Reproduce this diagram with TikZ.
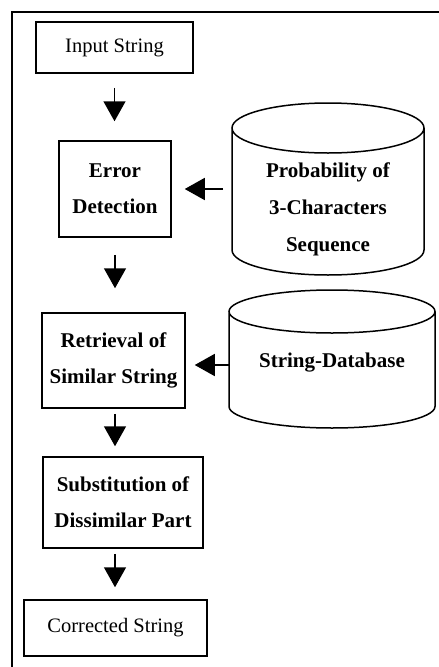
\documentclass[tikz,border=0pt]{standalone}
\usepackage{fontspec}
\setmainfont{Liberation Serif}
\usetikzlibrary{arrows.meta,calc}

\tikzset{
	box/.style={draw, line width=1.5pt, align=center, inner sep=2pt},
	stepbox/.style={box, font=\bfseries\fontsize{21}{36}\selectfont},
	endbox/.style={box, font=\fontsize{20.5}{24}\selectfont},
	store/.style={align=center, outer sep=0pt, font=\bfseries\fontsize{21}{37}\selectfont},
	drumline/.style={line width=1.5pt},
	flow/.style={line width=1.5pt, -{Triangle[width=22pt,length=20pt]}},
}

\newcommand\drum[2]{%
	\draw[drumline] let \p1=(#1.north west), \p2=(#1.north east), \n1={(\x2-\x1)/2} in
		(#1.north) ellipse[x radius=\n1, y radius=#2]
		(#1.north west) -- ([yshift=#2]#1.south west)
		arc[start angle=180, end angle=360, x radius=\n1, y radius=#2]
		-- (#1.north east);
}

\begin{document}
\begin{tikzpicture}[x=1pt,y=-1pt]
	\useasboundingbox (0,0) rectangle (439,667);
	\draw[line width=1.5pt] (12,667) -- (12,12) -- (439,12);

	\node[endbox, minimum width=157pt, minimum height=51pt] (input) at (114.5,47.5) {Input String};
	\node[stepbox, minimum width=112pt, minimum height=96pt] (detect) at (115,189) {Error\\Detection};
	\node[stepbox, minimum width=143pt, minimum height=95pt] (retrieve) at (113.5,360.5) {Retrieval of\\Similar String};
	\node[stepbox, minimum width=160pt, minimum height=91pt] (subst) at (123,502.5) {Substitution of\\Dissimilar Part};
	\node[endbox, minimum width=183pt, minimum height=56pt] (output) at (115.5,628) {Corrected String};

	\node[store, minimum width=192pt, minimum height=147pt] (trigram) at (328,201.5) {\rule{0pt}{31pt}Probability of\\3-Characters\\Sequence};
	\node[store, minimum width=206pt, minimum height=116.5pt] (stringdb) at (332,369.75) {String-Database\rule[-19pt]{0pt}{19pt}};
	\drum{trigram}{25pt}
	\drum{stringdb}{21.5pt}

	\draw[flow, shorten <=14pt, shorten >=19pt] (input.south) -- (input.south |- detect.north);
	\draw[flow, shorten <=17pt, shorten >=24pt] (detect.south) -- (detect.south |- retrieve.north);
	\draw[flow, shorten <=5pt, shorten >=10pt] (retrieve.south -| detect) -- (detect |- subst.north);
	\draw[flow, shorten <=5pt, shorten >=12pt] (subst.south -| detect) -- (detect |- output.north);
	\draw[flow, shorten <=9pt, shorten >=13pt] (detect.east -| trigram.west) -- (detect.east);
	\draw[flow, shorten >=9pt] ([yshift=-4.5pt]retrieve.east -| stringdb.west) -- ([yshift=-4.5pt]retrieve.east);
\end{tikzpicture}
\end{document}
